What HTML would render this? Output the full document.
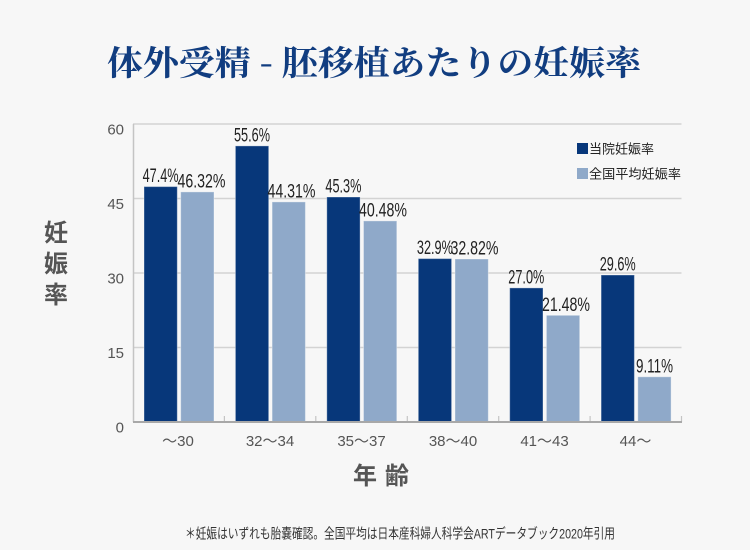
<!DOCTYPE html>
<html><head><meta charset="utf-8"><style>
html,body{margin:0;padding:0;background:#f7f7f7;}
svg{display:block;}
</style></head><body>
<svg width="750" height="550" viewBox="0 0 750 550" xmlns="http://www.w3.org/2000/svg">
<rect width="750" height="550" fill="#f7f7f7"/>
<text x="107" y="75" font-family="'Noto Serif CJK SC','Noto Serif CJK JP','Liberation Serif',serif" font-size="34" font-weight="bold" fill="#113d80" textLength="534" lengthAdjust="spacingAndGlyphs">体外受精 - 胚移植あたりの妊娠率</text>
<!-- gridlines -->
<g stroke="#d3d3d3" stroke-width="1.5">
<line x1="133" y1="124" x2="681.5" y2="124"/>
<line x1="133" y1="198.5" x2="681.5" y2="198.5"/>
<line x1="133" y1="273" x2="681.5" y2="273"/>
<line x1="133" y1="347.5" x2="681.5" y2="347.5"/>
</g>
<line x1="133.5" y1="124" x2="133.5" y2="422" stroke="#c4c4c4" stroke-width="1.5"/>
<g stroke="#c4c4c4" stroke-width="1.2">
<line x1="224.4" y1="416" x2="224.4" y2="422"/>
<line x1="315.8" y1="416" x2="315.8" y2="422"/>
<line x1="407.3" y1="416" x2="407.3" y2="422"/>
<line x1="498.7" y1="416" x2="498.7" y2="422"/>
<line x1="590.1" y1="416" x2="590.1" y2="422"/>
<line x1="681.5" y1="416" x2="681.5" y2="422"/>
</g>
<!-- y labels -->
<g font-family="'Liberation Sans',sans-serif" font-size="15" fill="#555" text-anchor="end">
<text x="124" y="134.5">60</text>
<text x="124" y="209">45</text>
<text x="124" y="283.5">30</text>
<text x="124" y="358">15</text>
<text x="124" y="432.5">0</text>
</g>
<!-- y title -->
<g font-family="'Liberation Sans','Noto Sans CJK JP',sans-serif" font-size="24" font-weight="bold" fill="#555" text-anchor="middle">
<text x="56" y="241">妊</text>
<text x="56" y="272">娠</text>
<text x="56" y="303">率</text>
</g>
<!-- bars -->
<g stroke="rgba(255,255,255,0.35)" stroke-width="1">
<rect x="144" y="186.6" width="33.3" height="235.4" fill="#07377a"/>
<rect x="180.7" y="191.9" width="33.3" height="230.1" fill="#8fa9c9"/>
<rect x="235.4" y="145.9" width="33.3" height="276.1" fill="#07377a"/>
<rect x="272.1" y="201.9" width="33.3" height="220.1" fill="#8fa9c9"/>
<rect x="326.8" y="197.0" width="33.3" height="225.0" fill="#07377a"/>
<rect x="363.5" y="220.9" width="33.3" height="201.1" fill="#8fa9c9"/>
<rect x="418.3" y="258.6" width="33.3" height="163.4" fill="#07377a"/>
<rect x="455.0" y="259.0" width="33.3" height="163.0" fill="#8fa9c9"/>
<rect x="509.7" y="287.9" width="33.3" height="134.1" fill="#07377a"/>
<rect x="546.4" y="315.3" width="33.3" height="106.7" fill="#8fa9c9"/>
<rect x="601.1" y="275.0" width="33.3" height="147.0" fill="#07377a"/>
<rect x="637.8" y="376.8" width="33.3" height="45.2" fill="#8fa9c9"/>
</g>
<line x1="133" y1="422" x2="682" y2="422" stroke="#a8a8a8" stroke-width="2"/>
<!-- bar labels -->
<g font-family="'Liberation Sans',sans-serif" font-size="19" fill="#222" text-anchor="middle">
<text x="160.6" y="182" textLength="36" lengthAdjust="spacingAndGlyphs">47.4%</text>
<text x="201.5" y="187.5" textLength="48" lengthAdjust="spacingAndGlyphs">46.32%</text>
<text x="252" y="141.5" textLength="36" lengthAdjust="spacingAndGlyphs">55.6%</text>
<text x="291.5" y="197.5" textLength="48" lengthAdjust="spacingAndGlyphs">44.31%</text>
<text x="343.4" y="192.5" textLength="36" lengthAdjust="spacingAndGlyphs">45.3%</text>
<text x="383" y="216.5" textLength="48" lengthAdjust="spacingAndGlyphs">40.48%</text>
<text x="434.9" y="254" textLength="36" lengthAdjust="spacingAndGlyphs">32.9%</text>
<text x="474.5" y="254.5" textLength="48" lengthAdjust="spacingAndGlyphs">32.82%</text>
<text x="526.3" y="283.5" textLength="36" lengthAdjust="spacingAndGlyphs">27.0%</text>
<text x="566" y="311" textLength="48" lengthAdjust="spacingAndGlyphs">21.48%</text>
<text x="617.7" y="270.5" textLength="36" lengthAdjust="spacingAndGlyphs">29.6%</text>
<text x="654.5" y="372.5" textLength="37" lengthAdjust="spacingAndGlyphs">9.11%</text>
</g>
<!-- x labels -->
<g font-family="'Liberation Sans','Noto Sans CJK JP',sans-serif" font-size="15" fill="#555" text-anchor="middle">
<text x="178" y="446">〜30</text>
<text x="270" y="446">32〜34</text>
<text x="361.5" y="446">35〜37</text>
<text x="453" y="446">38〜40</text>
<text x="544.5" y="446">41〜43</text>
<text x="635.5" y="446">44〜</text>
</g>
<g font-family="'Liberation Sans','Noto Sans CJK JP',sans-serif" font-size="24" font-weight="bold" fill="#555">
<text x="353" y="484">年</text>
<text x="385" y="484">齢</text>
</g>
<!-- legend -->
<rect x="577" y="143" width="11" height="11" fill="#07377a"/>
<rect x="577" y="168" width="11" height="11" fill="#8fa9c9"/>
<g font-family="'Liberation Sans','Noto Sans CJK JP',sans-serif" font-size="13" fill="#222">
<text x="589" y="153.5" textLength="65" lengthAdjust="spacingAndGlyphs">当院妊娠率</text>
<text x="589" y="178.5" textLength="92" lengthAdjust="spacingAndGlyphs">全国平均妊娠率</text>
</g>
<text x="185" y="538.5" font-family="'Liberation Sans','Noto Sans CJK JP',sans-serif" font-size="14" fill="#333" textLength="430" lengthAdjust="spacingAndGlyphs">＊妊娠はいずれも胎嚢確認。全国平均は日本産科婦人科学会ARTデータブック2020年引用</text>
</svg>
</body></html>
